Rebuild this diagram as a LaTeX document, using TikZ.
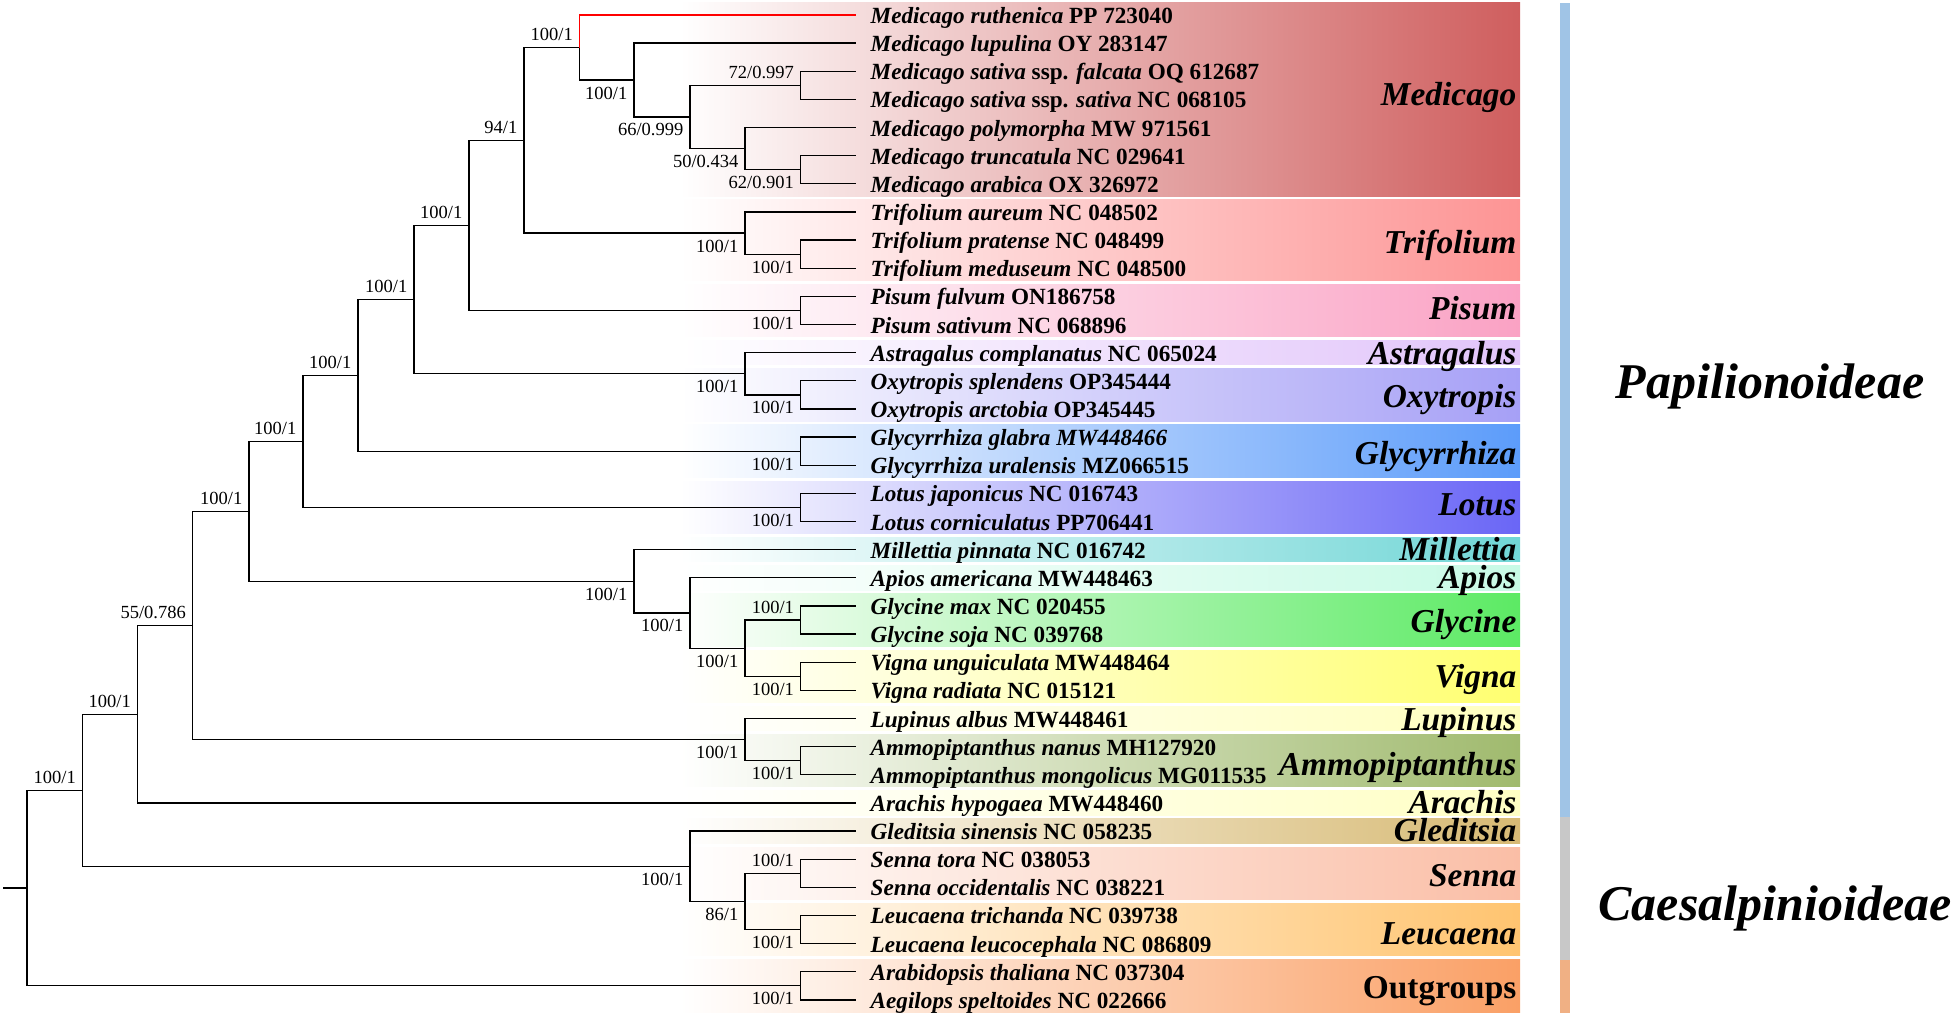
\documentclass[tikz,border=0pt]{standalone}
\usepackage{fontspec}
\setmainfont{Liberation Serif}
\usepackage{xcolor}

% clade colours
\definecolor{cMedicago}{RGB}{207,94,94}
\definecolor{cTrifolium}{RGB}{253,148,148}
\definecolor{cPisum}{RGB}{250,162,196}
\definecolor{cAstragalus}{RGB}{225,196,250}
\definecolor{cOxytropis}{RGB}{166,160,246}
\definecolor{cGlycyrrhiza}{RGB}{92,156,250}
\definecolor{cLotus}{RGB}{106,102,246}
\definecolor{cMillettia}{RGB}{112,214,214}
\definecolor{cApios}{RGB}{200,250,230}
\definecolor{cGlycine}{RGB}{92,234,100}
\definecolor{cVigna}{RGB}{255,255,112}
\definecolor{cLupinus}{RGB}{255,255,190}
\definecolor{cAmmo}{RGB}{160,186,110}
\definecolor{cArachis}{RGB}{255,255,196}
\definecolor{cGleditsia}{RGB}{215,186,116}
\definecolor{cSenna}{RGB}{250,190,166}
\definecolor{cLeucaena}{RGB}{255,196,112}
\definecolor{cOutgroup}{RGB}{250,160,102}
\definecolor{barPap}{RGB}{160,196,230}
\definecolor{barCae}{RGB}{200,200,200}
\definecolor{barOut}{RGB}{240,176,132}

% band behind the rows #2..#3, fading to white on the left
\newcommand{\cladeband}[3]{%
  \shade[left color=white, right color=#1]
    (680,{15+28.14*#2-12.2}) rectangle (1520,{15+28.14*#3+12.2});}

\begin{document}
\begin{tikzpicture}[x=1pt, y=-1pt, line width=1.3pt,
  sup/.style={font=\fontsize{18.5}{18.5}\selectfont, inner sep=6pt},
  taxon/.style={anchor=base west, inner sep=0pt, font=\bfseries\fontsize{23.2}{23.2}\selectfont},
  genus/.style={anchor=base east, inner sep=0pt, font=\bfseries\itshape\fontsize{33.4}{33.4}\selectfont},
  subfam/.style={anchor=base, inner sep=0pt, font=\bfseries\itshape\fontsize{50}{50}\selectfont}]

  \useasboundingbox (0,0) rectangle (1955,1018);

  % Clade bands
  \cladeband{cMedicago}{0}{6}
  \cladeband{cTrifolium}{7}{9}
  \cladeband{cPisum}{10}{11}
  \cladeband{cAstragalus}{12}{12}
  \cladeband{cOxytropis}{13}{14}
  \cladeband{cGlycyrrhiza}{15}{16}
  \cladeband{cLotus}{17}{18}
  \cladeband{cMillettia}{19}{19}
  \cladeband{cApios}{20}{20}
  \cladeband{cGlycine}{21}{22}
  \cladeband{cVigna}{23}{24}
  \cladeband{cLupinus}{25}{25}
  \cladeband{cAmmo}{26}{27}
  \cladeband{cArachis}{28}{28}
  \cladeband{cGleditsia}{29}{29}
  \cladeband{cSenna}{30}{31}
  \cladeband{cLeucaena}{32}{33}
  \cladeband{cOutgroup}{34}{35}

  % Tips
  \foreach \i/\txt in {
    0/{\textit{Medicago ruthenica} PP 723040},
    1/{\textit{Medicago lupulina} OY 283147},
    2/{\textit{Medicago sativa} ssp. \textit{falcata} OQ 612687},
    3/{\textit{Medicago sativa} ssp. \textit{sativa} NC 068105},
    4/{\textit{Medicago polymorpha} MW 971561},
    5/{\textit{Medicago truncatula} NC 029641},
    6/{\textit{Medicago arabica} OX 326972},
    7/{\textit{Trifolium aureum} NC 048502},
    8/{\textit{Trifolium pratense} NC 048499},
    9/{\textit{Trifolium meduseum} NC 048500},
    10/{\textit{Pisum fulvum} ON186758},
    11/{\textit{Pisum sativum} NC 068896},
    12/{\textit{Astragalus complanatus} NC 065024},
    13/{\textit{Oxytropis splendens} OP345444},
    14/{\textit{Oxytropis arctobia} OP345445},
    15/{\textit{Glycyrrhiza glabra MW448466}},
    16/{\textit{Glycyrrhiza uralensis} MZ066515},
    17/{\textit{Lotus japonicus} NC 016743},
    18/{\textit{Lotus corniculatus} PP706441},
    19/{\textit{Millettia pinnata} NC 016742},
    20/{\textit{Apios americana} MW448463},
    21/{\textit{Glycine max} NC 020455},
    22/{\textit{Glycine soja} NC 039768},
    23/{\textit{Vigna unguiculata} MW448464},
    24/{\textit{Vigna radiata} NC 015121},
    25/{\textit{Lupinus albus} MW448461},
    26/{\textit{Ammopiptanthus nanus} MH127920},
    27/{\textit{Ammopiptanthus mongolicus} MG011535},
    28/{\textit{Arachis hypogaea} MW448460},
    29/{\textit{Gleditsia sinensis} NC 058235},
    30/{\textit{Senna tora} NC 038053},
    31/{\textit{Senna occidentalis} NC 038221},
    32/{\textit{Leucaena trichanda} NC 039738},
    33/{\textit{Leucaena leucocephala} NC 086809},
    34/{\textit{Arabidopsis thaliana} NC 037304},
    35/{\textit{Aegilops speltoides} NC 022666}}{
    \coordinate (t\i) at (856,{15+28.14*\i});
    \node[taxon] (l\i) at (870,{23.5+28.14*\i}) {\txt};
  }

  % Internal nodes (x = depth, y = middle of the two children)
  \coordinate (nsat2) at (800.6,85.35);
  \coordinate (ntru)  at (800.6,169.77);
  \coordinate (npoly) at (745,148.67);
  \coordinate (nsat)  at (690,117.01);
  \coordinate (nlup)  at (634,80.08);
  \coordinate (nruth) at (579.4,47.54);
  \coordinate (ntri2) at (800.6,254.19);
  \coordinate (ntri)  at (745,233.09);
  \coordinate (nmed)  at (524,140.31);
  \coordinate (npis)  at (800.6,310.47);
  \coordinate (nmp)   at (469,225.39);
  \coordinate (noxy)  at (800.6,394.89);
  \coordinate (nast)  at (745,373.79);
  \coordinate (nma)   at (414,299.59);
  \coordinate (ngly)  at (800.6,451.17);
  \coordinate (nmg)   at (358,375.38);
  \coordinate (nlot)  at (800.6,507.45);
  \coordinate (nml)   at (303,441.42);
  \coordinate (ngm)   at (800.6,620.01);
  \coordinate (nvig)  at (800.6,676.29);
  \coordinate (ngv)   at (745,648.15);
  \coordinate (napi)  at (690,612.98);
  \coordinate (nmil)  at (634,581.32);
  \coordinate (nmm)   at (249,511.37);
  \coordinate (nam)   at (800.6,760.71);
  \coordinate (nlu)   at (745,739.61);
  \coordinate (npap)  at (192.5,625.49);
  \coordinate (nara)  at (137.5,714.21);
  \coordinate (nsen)  at (800.6,873.27);
  \coordinate (nleu)  at (800.6,929.55);
  \coordinate (nsl)   at (745,901.41);
  \coordinate (ngle)  at (690,866.24);
  \coordinate (nleg)  at (82.5,790.22);
  \coordinate (nout)  at (800.6,985.83);
  \coordinate (nroot) at (27,888.03);
  \coordinate (stub)  at (3,888.03);

  % Branches
  \draw (stub) -- (nroot);
  \foreach \p/\c in {nroot/nleg, nroot/nout, nleg/nara, nleg/ngle,
      nara/npap, nara/t28, npap/nmm, npap/nlu, nmm/nml, nmm/nmil,
      nml/nmg, nml/nlot, nmg/nma, nmg/ngly, nma/nmp, nma/nast,
      nmp/nmed, nmp/npis, nmed/nruth, nmed/ntri, nruth/nlup,
      nlup/t1, nlup/nsat, nsat/nsat2, nsat/npoly, nsat2/t2, nsat2/t3,
      npoly/t4, npoly/ntru, ntru/t5, ntru/t6, ntri/t7, ntri/ntri2,
      ntri2/t8, ntri2/t9, npis/t10, npis/t11, nast/t12, nast/noxy,
      noxy/t13, noxy/t14, ngly/t15, ngly/t16, nlot/t17, nlot/t18,
      nmil/t19, nmil/napi, napi/t20, napi/ngv, ngv/ngm, ngv/nvig,
      ngm/t21, ngm/t22, nvig/t23, nvig/t24, nlu/t25, nlu/nam,
      nam/t26, nam/t27, ngle/t29, ngle/nsl, nsl/nsen, nsl/nleu,
      nsen/t30, nsen/t31, nleu/t32, nleu/t33, nout/t34, nout/t35}
    \draw (\p) |- (\c);
  \draw[red] (nruth) |- (t0);

  % Support values (bootstrap / posterior)
  \node[sup, above left] at (nruth) {100/1};
  \node[sup, below left] at (nlup)  {100/1};
  \node[sup, below left] at (nsat)  {66/0.999};
  \node[sup, above left] at (nsat2) {72/0.997};
  \node[sup, below left] at (npoly) {50/0.434};
  \node[sup, below left] at (ntru)  {62/0.901};
  \node[sup, above left] at (nmed)  {94/1};
  \node[sup, below left] at (ntri)  {100/1};
  \node[sup, below left] at (ntri2) {100/1};
  \node[sup, above left] at (nmp)   {100/1};
  \node[sup, below left] at (npis)  {100/1};
  \node[sup, above left] at (nma)   {100/1};
  \node[sup, below left] at (nast)  {100/1};
  \node[sup, below left] at (noxy)  {100/1};
  \node[sup, above left] at (nmg)   {100/1};
  \node[sup, below left] at (ngly)  {100/1};
  \node[sup, above left] at (nml)   {100/1};
  \node[sup, below left] at (nlot)  {100/1};
  \node[sup, above left] at (nmm)   {100/1};
  \node[sup, above left] at (npap)  {55/0.786};
  \node[sup, below left] at (nmil)  {100/1};
  \node[sup, below left] at (napi)  {100/1};
  \node[sup, below left] at (ngv)   {100/1};
  \node[sup, above left] at (ngm)   {100/1};
  \node[sup, below left] at (nvig)  {100/1};
  \node[sup, below left] at (nlu)   {100/1};
  \node[sup, below left] at (nam)   {100/1};
  \node[sup, above left] at (nara)  {100/1};
  \node[sup, above left] at (nleg)  {100/1};
  \node[sup, below left] at (ngle)  {100/1};
  \node[sup, below left] at (nsl)   {86/1};
  \node[sup, above left] at (nsen)  {100/1};
  \node[sup, below left] at (nleu)  {100/1};
  \node[sup, below left] at (nout)  {100/1};

  % Genus labels
  \node[genus] (gMed) at (1517,105) {Medicago};
  \node[genus] (gTri) at (1517,253) {Trifolium};
  \node[genus] (gPis) at (1517,319) {Pisum};
  \node[genus] (gAst) at (1517,364) {Astragalus};
  \node[genus] (gOxy) at (1517,407) {Oxytropis};
  \node[genus] (gGlz) at (1517,464) {Glycyrrhiza};
  \node[genus] (gLot) at (1517,515) {Lotus};
  \node[genus] (gMil) at (1517,560) {Millettia};
  \node[genus] (gApi) at (1517,588) {Apios};
  \node[genus] (gGly) at (1517,632) {Glycine};
  \node[genus] (gVig) at (1517,687) {Vigna};
  \node[genus] (gLup) at (1517,730) {Lupinus};
  \node[genus] (gAmm) at (1517,775) {Ammopiptanthus};
  \node[genus] (gAra) at (1517,813) {Arachis};
  \node[genus] (gGle) at (1517,841) {Gleditsia};
  \node[genus] (gSen) at (1517,886) {Senna};
  \node[genus] (gLeu) at (1517,944) {Leucaena};
  \node[genus, font=\bfseries\fontsize{33.4}{33.4}\selectfont] (gOut) at (1517,998) {Outgroups};

  % Subfamily bar and names
  \fill[barPap] (1560,3) rectangle (1570,817);
  \fill[barCae] (1560,817) rectangle (1570,960);
  \fill[barOut] (1560,960) rectangle (1570,1013);
  \node[subfam] (pap) at (1770,398) {Papilionoideae};
  \node[subfam] (cae) at (1775,920) {Caesalpinioideae};
\end{tikzpicture}
\end{document}
